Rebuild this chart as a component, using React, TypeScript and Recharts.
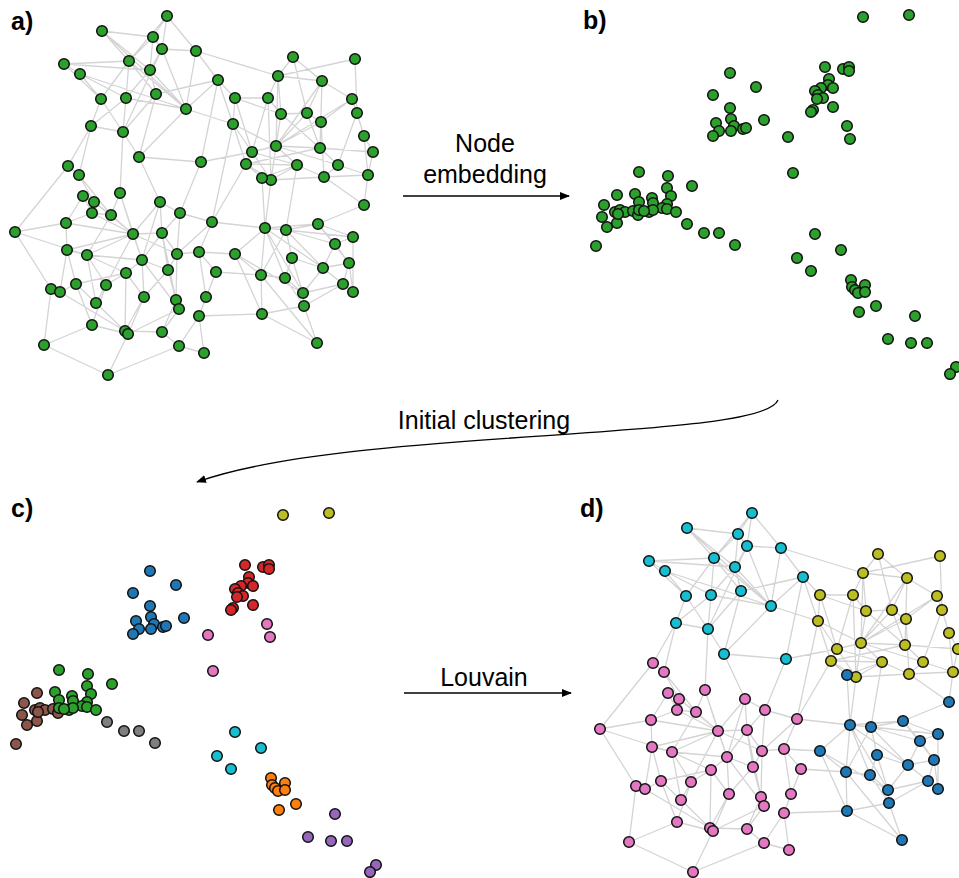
import React from "react";
import { ComposedChart, Scatter, Line, XAxis, YAxis } from "recharts";

// graph layout (panels a / d), pixel units inside the panel
const CYAN_NODES: [number, number][] = [
  [167, 16], [102, 31], [153, 37], [162, 49], [129, 61], [64, 64], [150, 70], [80, 74], [101, 99],
  [126, 98], [156, 94], [186, 109], [91, 126], [123, 132], [139, 157], [196, 51], [218, 80], [201, 162],
];
const PINK_NODES: [number, number][] = [
  [68, 166], [79, 175], [120, 193], [83, 196], [94, 202], [160, 202], [180, 213], [92, 213], [111, 215],
  [66, 223], [15, 232], [133, 234], [162, 233], [67, 250], [87, 255], [177, 254], [142, 260], [168, 270],
  [126, 273], [76, 284], [106, 285], [51, 289], [60, 292], [144, 297], [176, 300], [179, 309], [96, 303],
  [92, 325], [125, 331], [128, 334], [162, 332], [44, 345], [179, 346], [108, 375], [212, 222], [199, 252],
  [216, 272], [206, 297], [199, 316], [204, 353],
];
const YELLOW_NODES: [number, number][] = [
  [293, 57], [355, 59], [278, 76], [322, 81], [235, 98], [268, 98], [352, 99], [281, 114], [307, 113],
  [357, 113], [321, 122], [233, 124], [364, 136], [276, 146], [320, 148], [373, 152], [252, 152], [246, 164],
  [297, 165], [338, 165], [271, 180], [324, 177], [368, 175],
];
const BLUE_NODES: [number, number][] = [
  [262, 178], [364, 205], [265, 228], [286, 230], [318, 224], [353, 237], [335, 244], [235, 254], [292, 258],
  [349, 263], [323, 268], [261, 275], [285, 278], [343, 284], [353, 292], [303, 293], [304, 306], [262, 314],
  [317, 343],
];

const EDGES: [string, string][] = [
  ["c0", "c3"], ["c0", "c4"], ["c0", "c15"], ["c1", "c4"], ["c1", "c6"], ["c1", "c11"], ["c2", "c4"], ["c2", "c3"],
  ["c3", "c6"], ["c3", "c11"], ["c3", "c13"], ["c3", "c15"], ["c4", "c5"], ["c4", "c8"], ["c4", "c10"], ["c4", "c11"],
  ["c5", "c6"], ["c5", "c7"], ["c6", "c9"], ["c6", "c10"], ["c6", "c11"], ["c7", "c8"], ["c7", "c9"], ["c7", "c11"],
  ["c8", "c12"], ["c8", "c13"], ["c9", "c11"], ["c9", "c12"], ["c10", "c13"], ["c10", "c14"], ["c10", "c16"],
  ["c11", "c14"], ["c11", "c15"], ["c11", "c16"], ["c13", "c14"], ["c15", "c16"], ["c16", "c17"],
  ["c5", "c8"], ["c1", "c2"], ["c2", "c6"], ["c12", "c13"], ["c9", "c13"], ["c14", "c17"], ["c4", "c9"], ["c0", "c2"],
  ["c12", "p0"], ["c12", "p1"], ["c13", "p2"], ["c14", "p5"], ["c15", "y2"], ["c16", "y4"], ["c16", "y11"],
  ["c17", "y16"], ["c17", "p6"], ["c11", "y11"],
  ["y0", "y2"], ["y0", "y8"], ["y1", "y2"], ["y1", "y9"], ["y2", "y7"], ["y2", "y13"], ["y2", "y5"], ["y3", "y13"],
  ["y3", "y8"], ["y3", "y14"], ["y4", "y7"], ["y4", "y11"], ["y4", "y16"], ["y5", "y16"], ["y5", "y20"], ["y5", "y7"],
  ["y6", "y13"], ["y6", "y10"], ["y6", "y9"], ["y7", "y8"], ["y7", "y13"], ["y8", "y14"], ["y8", "y10"], ["y9", "y12"],
  ["y9", "y19"], ["y10", "y13"], ["y10", "y21"], ["y11", "y13"], ["y11", "y16"], ["y12", "y22"], ["y12", "y15"],
  ["y13", "y14"], ["y13", "y16"], ["y13", "y18"], ["y13", "y20"], ["y13", "y19"], ["y14", "y15"], ["y14", "y19"],
  ["y14", "y17"], ["y16", "y17"], ["y16", "y20"], ["y17", "y20"], ["y17", "y18"], ["y18", "y20"], ["y19", "y21"],
  ["y20", "y21"], ["y21", "y22"], ["y18", "y21"],
  ["y0", "y3"], ["y3", "y6"], ["y2", "y3"], ["y8", "y13"], ["y10", "y14"], ["y15", "y22"], ["y19", "y22"],
  ["y4", "y5"], ["y11", "y17"], ["y16", "y18"], ["y7", "y14"],
  ["p0", "p1"], ["p1", "p4"], ["p1", "p8"], ["p2", "p11"], ["p2", "p16"], ["p3", "p4"], ["p3", "p7"], ["p4", "p8"],
  ["p4", "p11"], ["p5", "p11"], ["p5", "p6"], ["p5", "p12"], ["p6", "p12"], ["p6", "p15"], ["p6", "p34"], ["p7", "p9"],
  ["p7", "p11"], ["p7", "p8"], ["p8", "p11"], ["p8", "p14"], ["p9", "p10"], ["p9", "p13"], ["p9", "p11"], ["p10", "p14"],
  ["p10", "p0"], ["p10", "p21"], ["p11", "p12"], ["p11", "p13"], ["p11", "p16"], ["p11", "p14"], ["p11", "p15"],
  ["p11", "p20"], ["p12", "p15"], ["p12", "p16"], ["p12", "p17"], ["p13", "p14"], ["p13", "p19"], ["p14", "p16"],
  ["p14", "p20"], ["p14", "p26"], ["p15", "p35"], ["p15", "p17"], ["p15", "p24"], ["p16", "p18"], ["p16", "p23"],
  ["p16", "p25"], ["p17", "p23"], ["p17", "p24"], ["p18", "p20"], ["p18", "p28"], ["p18", "p19"], ["p19", "p26"],
  ["p19", "p27"], ["p20", "p26"], ["p21", "p22"], ["p21", "p31"], ["p22", "p28"], ["p22", "p19"], ["p23", "p28"],
  ["p23", "p29"], ["p24", "p25"], ["p24", "p30"], ["p25", "p30"], ["p25", "p29"], ["p27", "p29"], ["p28", "p30"],
  ["p29", "p33"], ["p30", "p32"], ["p31", "p33"], ["p32", "p38"], ["p33", "p32"], ["p34", "p35"], ["p34", "p15"],
  ["p35", "p36"], ["p36", "p37"], ["p37", "p38"], ["p38", "p39"], ["p39", "p32"], ["p34", "y17"], ["p34", "y11"],
  ["p2", "p8"], ["p3", "p9"], ["p5", "p16"], ["p12", "p24"], ["p13", "p22"], ["p14", "p18"], ["p17", "p25"],
  ["p18", "p23"], ["p20", "p27"], ["p26", "p28"], ["p27", "p31"], ["p35", "p37"], ["p36", "p38"], ["p16", "p17"],
  ["b0", "b2"], ["b0", "y17"], ["b0", "y18"], ["b0", "y20"], ["b1", "b4"], ["b1", "y21"], ["b2", "b3"], ["b2", "b4"],
  ["b2", "b7"], ["b2", "b11"], ["b2", "b12"], ["b2", "b15"], ["b2", "b10"], ["b2", "p34"], ["b3", "b4"], ["b3", "b5"],
  ["b3", "b6"], ["b3", "b8"], ["b3", "b10"], ["b3", "b11"], ["b4", "b6"], ["b5", "b14"], ["b5", "b6"], ["b6", "b10"],
  ["b7", "b11"], ["b7", "b15"], ["b7", "p35"], ["b8", "b15"], ["b8", "b12"], ["b9", "b10"], ["b9", "b13"],
  ["b10", "b15"], ["b10", "b13"], ["b11", "b12"], ["b11", "b17"], ["b11", "b18"], ["b11", "p36"], ["b12", "b16"],
  ["b13", "b14"], ["b13", "b15"], ["b15", "b16"], ["b16", "b17"], ["b16", "b18"], ["b17", "p38"], ["b3", "y18"],
  ["b2", "y20"], ["b4", "b5"], ["b4", "b9"], ["b6", "b9"], ["b8", "b10"], ["b12", "b15"], ["b13", "b16"],
  ["b14", "b9"], ["b17", "b18"], ["b7", "b17"], ["y22", "b1"],
];

// embedding (panels b / c), pixel units inside the panel
const EMB_GREEN: [number, number][] = [
  [59, 172], [88, 176], [112, 186], [87, 188], [55, 194], [91, 196], [72, 198], [59, 202], [73, 203],
  [87, 204], [82, 208], [59, 210], [69, 212], [87, 209], [96, 212], [73, 210], [64, 211],
];
const EMB_BROWN: [number, number][] = [
  [37, 195], [24, 205], [22, 217], [27, 227], [16, 246], [37, 223], [35, 212], [40, 210], [45, 212],
  [53, 211], [58, 215], [38, 214],
];
const EMB_GRAY: [number, number][] = [[107, 224], [124, 233], [139, 233], [155, 245]];
const EMB_YELLOW: [number, number][] = [[283, 17], [329, 15]];
const EMB_BLUE: [number, number][] = [
  [150, 73], [176, 87], [133, 95], [150, 108], [184, 120], [136, 123], [151, 119], [154, 126], [163, 129],
  [166, 128], [139, 131], [151, 131], [133, 136],
];
const EMB_RED: [number, number][] = [
  [245, 67], [263, 69], [269, 67], [269, 71], [249, 79], [248, 85], [253, 88], [241, 88], [235, 91],
  [238, 95], [243, 98], [237, 99], [253, 107], [233, 110], [231, 112],
];
const EMB_PINK: [number, number][] = [[208, 137], [267, 126], [270, 139], [213, 173]];
const EMB_CYAN: [number, number][] = [[235, 234], [261, 250], [217, 258], [231, 271]];
const EMB_ORANGE: [number, number][] = [
  [271, 280], [285, 285], [272, 287], [275, 290], [278, 293], [285, 292], [296, 306], [279, 312],
];
const EMB_PURPLE: [number, number][] = [[335, 316], [308, 339], [331, 343], [347, 343], [376, 367], [370, 374]];

const GREEN = "#2ca02c";
const EDGE = "#d4d4d4";

const toPts = (arr: [number, number][]) => arr.map(([x, y]) => ({ x, y }));

const nodeById: Record<string, { x: number; y: number }> = {};
const addIds = (prefix: string, arr: [number, number][]) =>
  arr.forEach(([x, y], i) => (nodeById[prefix + i] = { x, y }));
addIds("c", CYAN_NODES);
addIds("p", PINK_NODES);
addIds("y", YELLOW_NODES);
addIds("b", BLUE_NODES);

const edgeData: { x: number; y: number | null }[] = [];
EDGES.forEach(([a, b]) => {
  const p = nodeById[a];
  const q = nodeById[b];
  edgeData.push({ x: p.x, y: p.y }, { x: q.x, y: q.y }, { x: q.x, y: null });
});

const Dot = (props: any) => (
  <circle cx={props.cx} cy={props.cy} r={5.3} fill={props.fill} stroke="#111" strokeWidth={1.5} />
);

const GraphPanel = ({ left, top, colors }: { left: number; top: number; colors: string[] }) => {
  const groups = [CYAN_NODES, PINK_NODES, YELLOW_NODES, BLUE_NODES];
  return (
    <div style={{ position: "absolute", left, top }}>
      <ComposedChart width={390} height={390} margin={{ top: 0, right: 0, bottom: 0, left: 0 }}>
        <XAxis type="number" dataKey="x" domain={[0, 390]} hide allowDataOverflow />
        <YAxis type="number" dataKey="y" domain={[0, 390]} reversed hide allowDataOverflow />
        <Line
          data={edgeData}
          dataKey="y"
          stroke={EDGE}
          strokeWidth={1.3}
          dot={false}
          activeDot={false}
          connectNulls={false}
          isAnimationActive={false}
        />
        {groups.map((g, i) => (
          <Scatter key={i} data={toPts(g)} fill={colors[i]} shape={<Dot />} isAnimationActive={false} />
        ))}
      </ComposedChart>
    </div>
  );
};

const EmbedPanel = ({ left, top, colors }: { left: number; top: number; colors: string[] }) => {
  const groups = [
    EMB_YELLOW, EMB_BLUE, EMB_RED, EMB_PINK, EMB_BROWN, EMB_GREEN, EMB_GRAY, EMB_CYAN, EMB_ORANGE, EMB_PURPLE,
  ];
  return (
    <div style={{ position: "absolute", left, top }}>
      <ComposedChart width={390} height={380} margin={{ top: 0, right: 0, bottom: 0, left: 0 }}>
        <XAxis type="number" dataKey="x" domain={[0, 390]} hide allowDataOverflow />
        <YAxis type="number" dataKey="y" domain={[0, 380]} reversed hide allowDataOverflow />
        {groups.map((g, i) => (
          <Scatter key={i} data={toPts(g)} fill={colors[i]} shape={<Dot />} isAnimationActive={false} />
        ))}
      </ComposedChart>
    </div>
  );
};

export default function App() {
  const font = "'Liberation Sans', Arial, sans-serif";
  return (
    <div
      style={{
        position: "absolute",
        left: 0,
        top: 0,
        width: 959,
        height: 878,
        overflow: "hidden",
        background: "#fff",
        fontFamily: font,
      }}
    >
      <GraphPanel left={0} top={0} colors={[GREEN, GREEN, GREEN, GREEN]} />
      <EmbedPanel left={580} top={0} colors={Array(10).fill(GREEN)} />
      <EmbedPanel
        left={0}
        top={498}
        colors={["#bcbd22", "#1f77b4", "#d62728", "#e377c2", "#8c564b", GREEN, "#7f7f7f", "#17becf", "#ff7f0e", "#9467bd"]}
      />
      <GraphPanel left={585} top={497} colors={["#17becf", "#e377c2", "#bcbd22", "#1f77b4"]} />
      <svg
        width={959}
        height={878}
        style={{ position: "absolute", left: 0, top: 0, pointerEvents: "none" }}
        fontFamily={font}
      >
        <defs>
          <marker id="ah" markerWidth={10} markerHeight={8} refX={9} refY={4} orient="auto" markerUnits="userSpaceOnUse">
            <path d="M0,0 L10,4 L0,8 z" fill="#000" />
          </marker>
        </defs>
        <g fontSize={25} fontWeight="bold" fill="#000">
          <text x={11} y={30}>a)</text>
          <text x={583} y={29}>b)</text>
          <text x={11} y={517}>c)</text>
          <text x={580} y={517}>d)</text>
        </g>
        <g fontSize={25} fill="#000" textAnchor="middle">
          <text x={485} y={152}>Node</text>
          <text x={485} y={183}>embedding</text>
          <text x={484} y={429}>Initial clustering</text>
          <text x={484} y={686}>Louvain</text>
        </g>
        <line x1={403} y1={196} x2={569} y2={196} stroke="#000" strokeWidth={1.3} markerEnd="url(#ah)" />
        <line x1={404} y1={693} x2={571} y2={693} stroke="#000" strokeWidth={1.3} markerEnd="url(#ah)" />
        <path
          d="M778,400 C762,442 350,427 197,482"
          fill="none"
          stroke="#000"
          strokeWidth={1.3}
          markerEnd="url(#ah)"
        />
      </svg>
    </div>
  );
}
